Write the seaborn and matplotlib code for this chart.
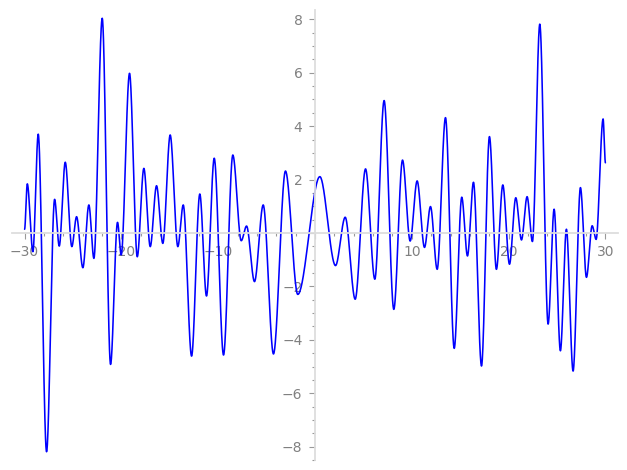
import numpy as np
import pandas as pd
import seaborn as sns
import matplotlib
matplotlib.use("Agg")
import matplotlib.pyplot as plt
from matplotlib.ticker import MultipleLocator, FuncFormatter

# turning points of the curve (x, y)
x_pts = [-30.0, -29.72, -29.14, -28.59, -27.73, -26.90, -26.42, -25.80, -25.12, -24.63,
         -23.98, -23.36, -22.84, -21.98, -21.12, -20.40, -20.02, -19.16, -18.36, -17.68,
         -17.02, -16.37, -15.72, -14.96, -14.17, -13.61, -12.75, -11.90, -11.21, -10.41,
         -9.45, -8.49, -7.62, -7.07, -6.25, -5.35, -4.29, -3.05, -1.78, 0.50,
         2.12, 3.12, 4.15, 5.22, 6.18, 7.14, 8.14, 9.04, 9.83, 10.55,
         11.31, 11.93, 12.62, 13.48, 14.38, 15.16, 15.75, 16.37, 17.20, 18.02,
         18.74, 19.40, 20.09, 20.74, 21.33, 21.91, 22.46, 23.22, 24.08, 24.70,
         25.35, 25.97, 26.66, 27.42, 28.04, 28.63, 29.04, 29.76, 30.0]
y_pts = [0.14, 1.84, -0.70, 3.70, -8.19, 1.26, -0.49, 2.65, -0.51, 0.61,
         -1.30, 1.05, -0.95, 8.04, -4.92, 0.40, -0.82, 5.98, -0.89, 2.42,
         -0.51, 1.77, -0.39, 3.67, -0.51, 1.05, -4.61, 1.46, -2.36, 2.80,
         -4.57, 2.92, -0.29, 0.26, -1.82, 1.05, -4.53, 2.32, -2.30, 2.11,
         -1.22, 0.59, -2.48, 2.40, -1.73, 4.96, -2.86, 2.73, -0.30, 1.95,
         -0.54, 0.99, -1.36, 4.32, -4.32, 1.34, -0.86, 1.90, -4.98, 3.61,
         -1.36, 1.80, -1.17, 1.32, -0.26, 1.36, -0.32, 7.82, -3.41, 0.89,
         -4.41, 0.14, -5.17, 1.70, -1.66, 0.27, -0.24, 4.27, 2.63]

x_major = [-30, -20, -10, 10, 20, 30]
y_major = [-8, -6, -4, -2, 2, 4, 6, 8]

# smooth drawing between turning points (flat tangent at each peak / trough)
xs, ys = [], []
for i in range(len(x_pts) - 1):
    t = np.linspace(0, 1, 40, endpoint=False)
    s = 3 * t**2 - 2 * t**3
    xs.append(x_pts[i] + (x_pts[i + 1] - x_pts[i]) * t)
    ys.append(y_pts[i] + (y_pts[i + 1] - y_pts[i]) * s)
xs.append([x_pts[-1]])
ys.append([y_pts[-1]])
df = pd.DataFrame({"x": np.concatenate(xs), "y": np.concatenate(ys)})

sns.set_style("white")
plt.rcParams["font.family"] = ["DejaVu Sans"]

fig = plt.figure(figsize=(6.27, 4.70), dpi=100)
ax = fig.add_axes([12 / 627, 10 / 470, 606 / 627, 450 / 470])

sns.lineplot(data=df, x="x", y="y", ax=ax, color="blue", linewidth=1.15,
             sort=False, estimator=None)

ax.set_xlim(-31.3, 31.3)
ax.set_ylim(-8.5, 8.35)

for side in ["top", "right"]:
    ax.spines[side].set_visible(False)
ax.spines["left"].set_position(("data", 0))
ax.spines["bottom"].set_position(("data", 0))
for side in ["left", "bottom"]:
    ax.spines[side].set_color("#dddddd")
    ax.spines[side].set_linewidth(1.3)

ax.xaxis.set_major_locator(MultipleLocator(10))
ax.xaxis.set_minor_locator(MultipleLocator(2))
ax.yaxis.set_major_locator(MultipleLocator(2))
ax.yaxis.set_minor_locator(MultipleLocator(0.5))

fmt = FuncFormatter(lambda v, p: "" if abs(v) < 1e-9 else f"{v:g}".replace("-", "\u2212"))
ax.xaxis.set_major_formatter(fmt)
ax.yaxis.set_major_formatter(fmt)

ax.tick_params(which="both", direction="out", colors="#999999", labelcolor="#808080",
               labelsize=10, width=0.8, bottom=True, left=True)
ax.tick_params(which="major", length=4, pad=5)
ax.tick_params(which="minor", length=2.5)
ax.set_xlabel("")
ax.set_ylabel("")
ax.grid(False)

fig.savefig("out.png", dpi=100)
